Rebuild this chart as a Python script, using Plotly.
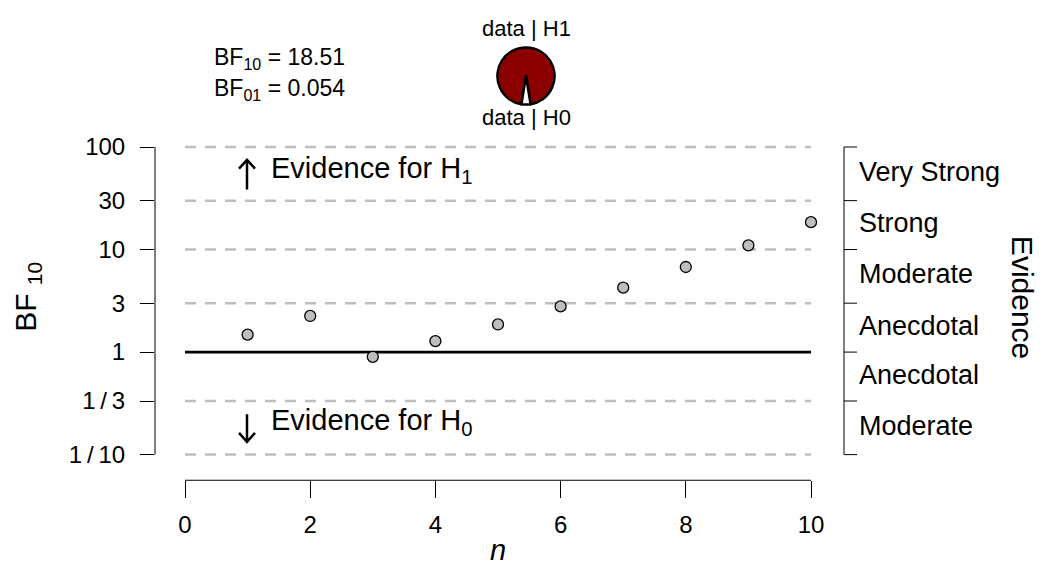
import numpy as np
import plotly.graph_objects as go

# ---------------- data ----------------
n = [1, 2, 3, 4, 5, 6, 7, 8, 9, 10]
bf10 = [1.48, 2.25, 0.90, 1.28, 1.86, 2.79, 4.25, 6.76, 10.99, 18.51]
bf10_final = 18.51
bf01_final = 0.054
x_tickvals = [0, 2, 4, 6, 8, 10]
y_tickvals = [100, 30, 10, 3, 1, 1 / 3, 1 / 10]
y_ticktext = ["100", "30", "10", "3", "1", "1\u2009/\u20093", "1\u2009/\u200910"]
evidence_labels = ["Very Strong", "Strong", "Moderate", "Anecdotal", "Anecdotal", "Moderate"]
pie_labels = ["data | H1", "data | H0"]

# ---------------- layout constants (pixels) ----------------
W, H = 1043, 568
L, R, T, B = 155, 844, 135, 479          # plot region edges
PX0, PPU = 185, 62.6                     # pixel of n=0, pixels per unit n
PY1, PPD = 349, 104                      # pixel of BF=1, pixels per decade
XR = [(L - PX0) / PPU, (R - PX0) / PPU]
YR = [(PY1 - B) / PPD, (PY1 - T) / PPD]
FONT = "Liberation Sans, Arial, sans-serif"


def yfrac(v):
    return (np.log10(v) - YR[0]) / (YR[1] - YR[0])


def px(xp):
    return xp / W


def py(yp):
    return 1 - yp / H


fig = go.Figure()

# gridlines and reference line
shapes = []
for v in y_tickvals:
    if v == 1:
        shapes.append(dict(type="line", xref="x", yref="y domain",
                           x0=x_tickvals[0], x1=x_tickvals[-1], y0=yfrac(v), y1=yfrac(v),
                           line=dict(color="black", width=2.6), layer="below"))
    else:
        shapes.append(dict(type="line", xref="x", yref="y domain",
                           x0=x_tickvals[0], x1=x_tickvals[-1], y0=yfrac(v), y1=yfrac(v),
                           line=dict(color="#BEBEBE", width=2.5, dash="11px,9px"), layer="below"))

# left axis line
shapes.append(dict(type="line", xref="x domain", yref="y domain", x0=0, x1=0,
                   y0=yfrac(min(y_tickvals)), y1=yfrac(max(y_tickvals)),
                   line=dict(color="black", width=1)))
# right evidence axis line + ticks
shapes.append(dict(type="line", xref="x domain", yref="y domain", x0=1, x1=1,
                   y0=yfrac(min(y_tickvals)), y1=yfrac(max(y_tickvals)),
                   line=dict(color="black", width=1)))
for v in y_tickvals:
    shapes.append(dict(type="line", xref="x domain", yref="y domain", x0=1, x1=1 + 13 / (R - L),
                       y0=yfrac(v), y1=yfrac(v), line=dict(color="black", width=1)))
# bottom axis line
shapes.append(dict(type="line", xref="x", yref="y domain", x0=x_tickvals[0], x1=x_tickvals[-1],
                   y0=0, y1=0, line=dict(color="black", width=1)))

# arrows
AX = 247
up = f"M {px(AX)} {py(184)} L {px(AX)} {py(154)} M {px(AX-8)} {py(163)} L {px(AX)} {py(154)} L {px(AX+8)} {py(163)}"
dn = f"M {px(AX)} {py(412)} L {px(AX)} {py(440)} M {px(AX-8)} {py(431)} L {px(AX)} {py(440)} L {px(AX+8)} {py(431)}"
for p in (up, dn):
    shapes.append(dict(type="path", xref="paper", yref="paper", path=p,
                       line=dict(color="black", width=2.5)))

# data points
fig.add_trace(go.Scatter(x=n, y=bf10, mode="markers", cliponaxis=False,
                         marker=dict(size=11, color="#BEBEBE", line=dict(color="black", width=1.3)),
                         showlegend=False, hoverinfo="x+y"))

# pie of posterior
frac0 = 1 / (1 + bf10_final)
rot = 180 - 360 * (1 - frac0 / 2)
fig.add_trace(go.Pie(values=[bf10_final, 1], labels=pie_labels, sort=False, direction="clockwise",
                     rotation=rot, textinfo="none", hoverinfo="label+percent", showlegend=False,
                     marker=dict(colors=["#8B0000", "white"], line=dict(color="black", width=2.5)),
                     domain=dict(x=[px(526 - 29), px(526 + 29)], y=[py(69 + 29), py(69 - 29)])))

ann = []
ann.append(dict(text=pie_labels[0], x=px(526), y=py(21), font=dict(size=22)))
ann.append(dict(text=pie_labels[1], x=px(526), y=py(111), font=dict(size=22)))
ann.append(dict(text=f"BF<sub>10</sub> = {bf10_final:.2f}", x=px(212), y=py(51), xanchor="left",
                font=dict(size=23)))
ann.append(dict(text=f"BF<sub>01</sub> = {bf01_final:.3f}", x=px(212), y=py(83), xanchor="left",
                font=dict(size=23)))
ann.append(dict(text="Evidence for H<sub>1</sub>", x=px(269), y=py(164), xanchor="left",
                font=dict(size=29)))
ann.append(dict(text="Evidence for H<sub>0</sub>", x=px(269), y=py(420), xanchor="left",
                font=dict(size=29)))
ann.append(dict(text="BF <sub>10</sub>", x=px(28), y=py(293), textangle=-90, font=dict(size=30)))
ann.append(dict(text="Evidence", x=px(1022), y=py(293), textangle=90, font=dict(size=30)))
ann.append(dict(text="<i>n</i>", x=px(498), y=0, yanchor="bottom", font=dict(size=29)))
for i, lab in enumerate(evidence_labels):
    mid = np.sqrt(y_tickvals[i] * y_tickvals[i + 1])
    ann.append(dict(text=lab, xref="x domain", yref="y domain", x=1 + 13 / (R - L),
                    y=yfrac(mid) + 2 / (B - T), xanchor="left", font=dict(size=27)))
for a in ann:
    a.setdefault("xref", "paper")
    a.setdefault("yref", "paper")
    a.setdefault("xanchor", "center")
    a.setdefault("yanchor", "middle")
    a["showarrow"] = False
    a["font"]["color"] = "black"
    a["font"]["family"] = FONT

fig.update_layout(
    width=W, height=H, margin=dict(l=0, r=0, t=0, b=0),
    paper_bgcolor="white", plot_bgcolor="white",
    font=dict(family=FONT, color="black"),
    shapes=shapes, annotations=ann,
    xaxis=dict(domain=[L / W, R / W], range=XR, tickvals=x_tickvals, ticks="outside", ticklen=17,
               tickcolor="black", tickwidth=1, showline=False, showgrid=False, zeroline=False,
               tickfont=dict(size=24), ticklabelstandoff=6),
    yaxis=dict(domain=[1 - B / H, 1 - T / H], type="log", range=YR, tickvals=y_tickvals,
               ticktext=y_ticktext, ticks="outside", ticklen=14, tickcolor="black", tickwidth=1,
               showline=False, showgrid=False, zeroline=False, tickfont=dict(size=24),
               ticklabelstandoff=10),
)

fig.write_html("out.html")
